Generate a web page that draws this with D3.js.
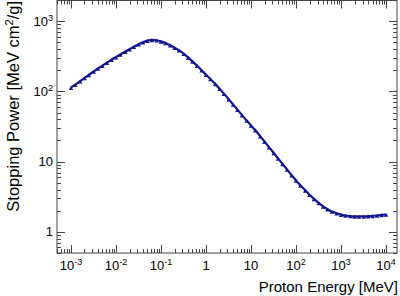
<!DOCTYPE html>
<html><head><meta charset="utf-8">
<script src="https://cdn.jsdelivr.net/npm/d3@7"></script>
<style>body{margin:0;background:#fff}svg{display:block}text{font-family:"Liberation Sans",Arial,Helvetica,sans-serif}</style>
</head><body>
<svg id="c" width="400" height="296"></svg>
<script>
// Proton energy [MeV]
const energy = [0.001,0.00125,0.0016,0.002,0.0025,0.0032,0.004,0.005,0.0063,0.008,
  0.01,0.0125,0.016,0.02,0.025,0.032,0.04,0.05,0.063,0.08,
  0.1,0.125,0.16,0.2,0.25,0.32,0.4,0.5,0.63,0.8,
  1,1.25,1.6,2,2.5,3.2,4,5,6.3,8,
  10,12.5,16,20,25,32,40,50,63,80,
  100,125,160,200,250,320,400,500,630,800,
  1000,1250,1600,2000,2500,3200,4000,5000,6300,8000,10000];
// Stopping power [MeV cm^2/g]
const stopping = [113,125,140,155,172,192,212,233,257,283,
  308,335,368,400,432,470,502,528,542,535,
  515,490,455,420,385,345,305,268,233,200,
  173,150,128,109,93,77.5,65,55,46,38.5,
  32.8,28,23,19.3,16.1,13.3,11.1,9.3,7.75,6.4,
  5.4,4.6,3.9,3.38,2.95,2.58,2.3,2.1,1.95,1.84,
  1.76,1.71,1.68,1.665,1.66,1.66,1.67,1.69,1.71,1.74,1.77];
const xTickLabels = [["10","-3"],["10","-2"],["10","-1"],["1",""],["10",""],["10","2"],["10","3"],["10","4"]];
const xTickValues = [1e-3,1e-2,1e-1,1,10,100,1000,10000];
const yTickLabels = [["1",""],["10",""],["10","2"],["10","3"]];
const yTickValues = [1,10,100,1000];
const xTitle = "Proton Energy [MeV]";

const svg = d3.select("#c");
const L=57,R=397,T=0.5,B=253;
const x = d3.scaleLog().domain([4.9e-4,1.75e4]).range([L,R]);
const y = d3.scaleLog().domain([0.5,1970]).range([B,T]);
const axisCol="#444";

// frame
svg.append("rect").attr("x",L).attr("y",T).attr("width",R-L).attr("height",B-T)
  .attr("fill","none").attr("stroke",axisCol).attr("stroke-width",1);

function logTicks(dom){
  const out=[];
  const a=Math.floor(Math.log10(dom[0])), b=Math.ceil(Math.log10(dom[1]));
  for(let e=a;e<=b;e++) for(let m=1;m<10;m++){const v=m*Math.pow(10,e); if(v>=dom[0]&&v<=dom[1]) out.push({v,major:m===1});}
  return out;
}
const xt=logTicks(x.domain()), yt=logTicks(y.domain());
const g=svg.append("g").attr("stroke",axisCol).attr("stroke-width",1);
xt.forEach(t=>{const px=Math.round(x(t.v))+0.5, len=t.major?8:4;
  g.append("line").attr("x1",px).attr("x2",px).attr("y1",B).attr("y2",B-len);
  g.append("line").attr("x1",px).attr("x2",px).attr("y1",T).attr("y2",T+len);});
yt.forEach(t=>{const py=Math.round(y(t.v))+0.5, len=t.major?8:4;
  g.append("line").attr("y1",py).attr("y2",py).attr("x1",L).attr("x2",L+len);
  g.append("line").attr("y1",py).attr("y2",py).attr("x1",R).attr("x2",R-len);});

xTickValues.forEach((v,i)=>{
  const t=svg.append("text").attr("x",x(v)).attr("y",269.5).attr("text-anchor","middle").attr("font-size",13).attr("fill","#000");
  t.append("tspan").text(xTickLabels[i][0]);
  if(xTickLabels[i][1]) t.append("tspan").attr("dy",-5).attr("font-size",9).text(xTickLabels[i][1]);
});
yTickValues.forEach((v,i)=>{
  const t=svg.append("text").attr("x",53).attr("y",y(v)+4.5).attr("text-anchor","end").attr("font-size",13).attr("fill","#000");
  t.append("tspan").text(yTickLabels[i][0]);
  if(yTickLabels[i][1]) t.append("tspan").attr("dy",-5).attr("font-size",9).text(yTickLabels[i][1]);
});

svg.append("text").attr("x",398).attr("y",292).attr("text-anchor","end").attr("font-size",15).attr("fill","#000").text(xTitle);
const yt2=svg.append("text").attr("transform","translate(19,1) rotate(-90)").attr("text-anchor","end").attr("font-size",16.5).attr("fill","#000");
yt2.append("tspan").text("Stopping Power [MeV cm");
yt2.append("tspan").attr("dy",-6).attr("font-size",11).text("2");
yt2.append("tspan").attr("dy",6).text("/g]");

const data=energy.map((e,i)=>({e,s:stopping[i]}));
const col="#16168f";
svg.append("path").datum(data).attr("fill","none").attr("stroke",col).attr("stroke-width",2.2)
  .attr("d",d3.line().x(d=>x(d.e)).y(d=>y(d.s)).curve(d3.curveMonotoneX));
svg.append("g").selectAll("path").data(data).join("path")
  .attr("transform",d=>`translate(${x(d.e)},${y(d.s)+1})`)
  .attr("d",d3.symbol().type(d3.symbolTriangle).size(9)).attr("fill",col);
</script>
</body></html>
